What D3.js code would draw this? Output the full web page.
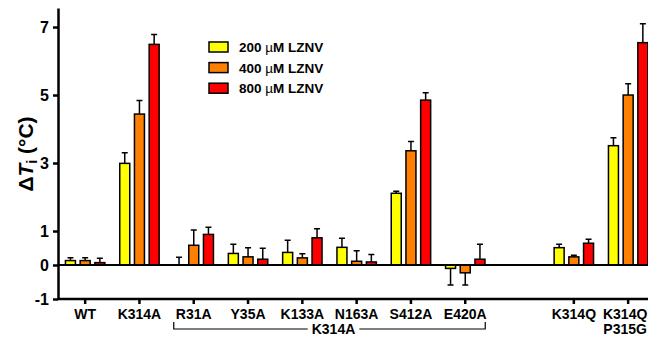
<!DOCTYPE html>
<html>
<head>
<meta charset="utf-8">
<script src="https://cdn.jsdelivr.net/npm/d3@7"></script>
<style>
  body { margin: 0; background: #fff; }
  svg { display: block; font-family: Arial, "Liberation Sans", Helvetica, sans-serif; font-weight: bold; }
</style>
</head>
<body>
<div id="chart"></div>
<script>
// mutants (the blank slot is the gap before the K314Q group)
const categories = ['WT', 'K314A', 'R31A', 'Y35A', 'K133A', 'N163A', 'S412A', 'E420A', 'K314Q', 'K314Q P315G'];
const slots = ['WT', 'K314A', 'R31A', 'Y35A', 'K133A', 'N163A', 'S412A', 'E420A', 'gap', 'K314Q', 'K314Q P315G'];
const seriesDoses = ['200', '400', '800'];
const seriesColors = ['#ffff00', '#ff8000', '#ff0000'];

// mean delta Ti per concentration
const v200 = [0.13, 2.99, 0.00, 0.34, 0.37, 0.52, 2.11, -0.10, 0.51, 3.51];
const v400 = [0.13, 4.44, 0.58, 0.24, 0.21, 0.11, 3.36, -0.23, 0.24, 5.00];
const v800 = [0.07, 6.49, 0.90, 0.17, 0.80, 0.09, 4.85, 0.17, 0.64, 6.54];
// error (one-sided, away from zero)
const e200 = [0.08, 0.31, 0.23, 0.27, 0.36, 0.27, 0.06, 0.49, 0.10, 0.23];
const e400 = [0.08, 0.40, 0.45, 0.27, 0.12, 0.31, 0.27, 0.36, 0.05, 0.33];
const e800 = [0.13, 0.29, 0.21, 0.32, 0.27, 0.22, 0.22, 0.44, 0.12, 0.56];

const yTicks = [-1, 0, 1, 3, 5, 7];
const bracketFrom = 'R31A', bracketTo = 'E420A', bracketLabel = 'K314A';

const values = [v200, v400, v800];
const errors = [e200, e400, e800];

const width = 648, height = 337;
const plotLeft = 58, plotTop = 8, plotBottom = 299;

const svg = d3.select('#chart').append('svg')
    .attr('width', width)
    .attr('height', height);

const x = d3.scaleBand()
    .domain(slots)
    .range([plotLeft, plotLeft + 11 * 54.3]);

const inner = d3.scaleBand()
    .domain(d3.range(3))
    .range([-19.7, 19.7])
    .paddingInner(0.32);

const y = d3.scaleLinear()
    .domain([-1, 7.56])
    .range([plotBottom, plotTop]);

const cx = c => x(c) + x.bandwidth() / 2;

// bars
const barData = [];
categories.forEach((c, i) => {
    for (let s = 0; s < 3; s++) {
        barData.push({ cat: c, s: s, v: values[s][i], e: errors[s][i] });
    }
});

const g = svg.append('g');

// error bars first, so bars sit on top
g.selectAll('.err')
    .data(barData)
    .enter().append('path')
    .attr('class', 'err')
    .attr('fill', 'none')
    .attr('stroke', '#000')
    .attr('stroke-width', 1.5)
    .attr('d', d => {
        const mx = cx(d.cat) + inner(d.s) + inner.bandwidth() / 2;
        const tip = d.v >= 0 ? d.v + d.e : d.v - d.e;
        return `M${mx},${y(d.v)}V${y(tip)}M${mx - 3},${y(tip)}H${mx + 3}`;
    });

g.selectAll('.bar')
    .data(barData)
    .enter().append('rect')
    .attr('class', 'bar')
    .attr('x', d => cx(d.cat) + inner(d.s))
    .attr('width', inner.bandwidth())
    .attr('y', d => y(Math.max(0, d.v)))
    .attr('height', d => Math.abs(y(d.v) - y(0)))
    .attr('fill', d => seriesColors[d.s])
    .attr('stroke', '#000')
    .attr('stroke-width', 1.5);

// zero line
svg.append('line')
    .attr('x1', plotLeft).attr('x2', width)
    .attr('y1', y(0)).attr('y2', y(0))
    .attr('stroke', '#000')
    .attr('stroke-width', 2);

// y axis
const yAxis = svg.append('g')
    .attr('transform', `translate(${plotLeft},0)`)
    .call(d3.axisLeft(y).tickValues(yTicks).tickSize(5).tickPadding(4).tickSizeOuter(0)
        .tickFormat(d => String(d)));
yAxis.select('.domain').attr('stroke-width', 2.5);
yAxis.selectAll('.tick line').attr('stroke-width', 2.5);
yAxis.selectAll('text').attr('font-size', 16).attr('font-weight', 'bold').attr('font-family', null);

// x axis at the bottom
const xAxis = svg.append('g')
    .attr('transform', `translate(0,${plotBottom})`)
    .call(d3.axisBottom(x).tickValues(categories).tickSize(5).tickPadding(5).tickSizeOuter(0)
        .tickFormat(d => d));
xAxis.select('.domain').attr('d', `M${plotLeft},0H${width}`).attr('stroke-width', 2.5);
xAxis.selectAll('.tick line').attr('stroke-width', 2.5);
xAxis.selectAll('text')
    .attr('font-size', 14)
    .attr('font-weight', 'bold')
    .attr('font-family', null)
    .each(function(d) {
        const parts = d.split(' ');
        if (parts.length > 1) {
            // two-line label at the right edge, nudged in so it is not clipped
            const t = d3.select(this).text(null).attr('transform', 'translate(-3,0)');
            parts.forEach((p, i) => {
                t.append('tspan')
                    .attr('x', 0)
                    .attr('dy', i === 0 ? '0.71em' : '1.05em')
                    .text(p);
            });
        }
    });

// bracket under the K314A double mutants
const bx0 = cx(bracketFrom) - 20, bx1 = cx(bracketTo) + 20, by = 329;
svg.append('path')
    .attr('fill', 'none')
    .attr('stroke', '#000')
    .attr('stroke-width', 1.2)
    .attr('d', `M${bx0},${by - 7}V${by}H${bx1}V${by - 7}`);
const bl = svg.append('text')
    .attr('x', (bx0 + bx1) / 2 + 4)
    .attr('y', 334)
    .attr('text-anchor', 'middle')
    .attr('font-size', 14)
    .text(bracketLabel);
const bb = bl.node().getBBox();
svg.append('rect')
    .attr('x', bb.x - 4).attr('y', bb.y)
    .attr('width', bb.width + 8).attr('height', bb.height)
    .attr('fill', '#fff');
bl.raise();

// y axis title
const yt = svg.append('text')
    .attr('transform', `translate(33,154) rotate(-90)`)
    .attr('text-anchor', 'middle')
    .attr('font-size', 21);
yt.append('tspan').text('\u0394');
yt.append('tspan').attr('font-style', 'italic').text('T');
yt.append('tspan').attr('font-size', 14).attr('dy', 4).text('i');
yt.append('tspan').attr('dy', -4).text(' (\u00b0C)');

// legend
const legend = svg.append('g');
seriesDoses.forEach((dose, i) => {
    const row = legend.append('g').attr('transform', `translate(209,${42 + i * 20.6})`);
    row.append('rect')
        .attr('width', 19).attr('height', 10)
        .attr('fill', seriesColors[i])
        .attr('stroke', '#000')
        .attr('stroke-width', 1.5);
    const t = row.append('text')
        .attr('x', 30).attr('y', 10)
        .attr('font-size', 13.5);
    t.append('tspan').text(dose + ' ');
    t.append('tspan').attr('font-weight', 'normal').text('\u00b5');
    t.append('tspan').text('M LZNV');
});
</script>
</body>
</html>
